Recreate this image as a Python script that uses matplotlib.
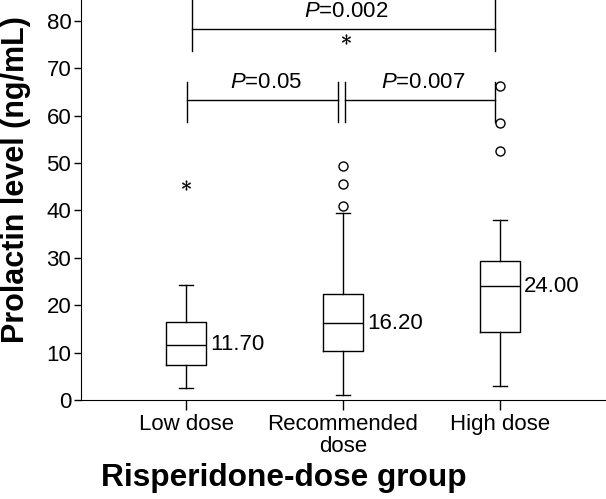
import matplotlib
matplotlib.use("Agg")
import matplotlib.pyplot as plt

plt.rcParams['font.family'] = ['Liberation Sans', 'DejaVu Sans']
plt.rcParams['mathtext.fontset'] = 'custom'
plt.rcParams['mathtext.rm'] = 'Liberation Sans'
plt.rcParams['mathtext.it'] = 'Liberation Sans:italic'

# data
groups = ["Low dose", "Recommended\ndose", "High dose"]
whislo = [2.5, 1.1, 3.0]
q1 = [7.4, 10.4, 14.4]
med = [11.7, 16.2, 24.0]
q3 = [16.4, 22.4, 29.3]
whishi = [24.3, 39.4, 38.0]
med_labels = ["11.70", "16.20", "24.00"]
extremes = [[45.4], [], []]          # drawn as stars
outliers = [[], [41.0, 45.5, 49.4], [52.5, 58.4, 66.2]]

pos = [1, 2, 3]
stats = []
for i in range(3):
    stats.append(dict(med=med[i], q1=q1[i], q3=q3[i],
                      whislo=whislo[i], whishi=whishi[i], fliers=[]))

fig = plt.figure(figsize=(6.06, 4.99), dpi=100)
ax = fig.add_axes([81/606, 99/499, 525/606, 400/499])

lp = dict(color='black', linewidth=1.0)
ax.bxp(stats, positions=pos, widths=0.26, capwidths=0.085, showfliers=False,
       boxprops=lp, whiskerprops=lp, capprops=lp, medianprops=lp)

star = r'$\ast$'
for i in range(3):
    if extremes[i]:
        ax.plot([pos[i]] * len(extremes[i]), extremes[i], ls='none', marker=star,
                ms=7, mfc='black', mec='black', mew=0.3)
    if outliers[i]:
        ax.plot([pos[i]] * len(outliers[i]), outliers[i], ls='none', marker='o',
                ms=6.5, mfc='white', mec='black', mew=1.0)
    ax.text(pos[i] + 0.155, med[i], med_labels[i], fontsize=16, va='center', ha='left')

# significance brackets
kw = dict(color='black', linewidth=1.0, clip_on=False)
ax.plot([1.036, 2.97], [78.2, 78.2], **kw)
ax.plot([1.036, 1.036], [73.6, 84.5], **kw)
ax.plot([2.97, 2.97], [73.6, 84.5], **kw)
ax.text(2.02, 81.9, r"$\it{P}$=0.002", fontsize=16, ha='center', va='center')
ax.plot([2.02], [76.2], ls='none', marker=star, ms=7, mfc='black', mec='black', mew=0.3)

ax.plot([1.008, 1.97], [63.3, 63.3], **kw)
ax.plot([2.01, 2.97], [63.3, 63.3], **kw)
for x in [1.008, 1.97, 2.01, 2.97]:
    ax.plot([x, x], [58.7, 67.1], **kw)
ax.text(1.51, 67.0, r"$\it{P}$=0.05", fontsize=16, ha='center', va='center')
ax.text(2.51, 67.0, r"$\it{P}$=0.007", fontsize=16, ha='center', va='center')

ax.set_xlim(0.331, 3.675)
ax.set_ylim(0, 84.4)
ax.set_yticks(range(0, 81, 10))
ax.set_xticks(pos)
ax.set_xticklabels(groups, fontsize=16, linespacing=1.05)
ax.tick_params(axis='y', labelsize=16, length=5, width=1.0, pad=2)
ax.tick_params(axis='x', length=7, width=1.0, pad=3)
ax.spines['top'].set_visible(False)
ax.spines['right'].set_visible(False)
ax.set_ylabel("Prolactin level (ng/mL)", fontsize=22, fontweight='bold')
ax.set_xlabel("Risperidone-dose group", fontsize=22.8, fontweight='bold')
ax.yaxis.set_label_coords(-0.1245, 0.55)
ax.yaxis.label.set_verticalalignment('center')
ax.xaxis.set_label_coords(0.387, -0.195)
ax.xaxis.label.set_verticalalignment('center')

fig.savefig("out.png", dpi=100)
